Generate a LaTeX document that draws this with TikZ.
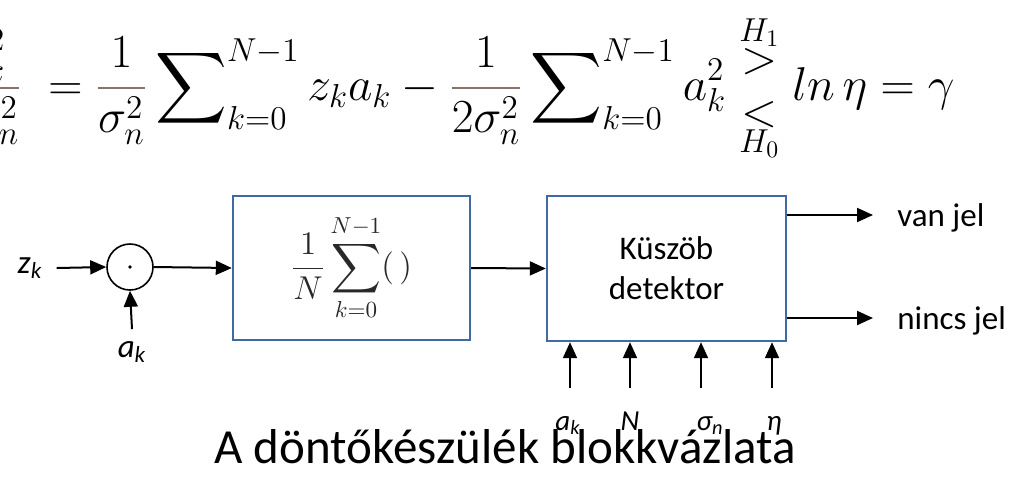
\RequirePackage{fix-cm}
\documentclass[tikz,border=0pt]{standalone}
\usepackage{amsmath}
\usepackage[no-math]{fontspec}
\setmainfont{Carlito}
\usetikzlibrary{arrows.meta}
\definecolor{boxblue}{RGB}{65,105,165}
\definecolor{barbrown}{RGB}{140,112,108}
\definecolor{mathgray}{RGB}{40,40,40}
\newcommand{\bfrac}[2]{{\color{barbrown}\frac{\color{black}#1}{\color{black}#2}}}
\newcommand{\decide}{\mathrel{\vcenter{\offinterlineskip\halign{\hfil##\hfil\cr$\scriptstyle H_1$\cr\noalign{\kern1pt}$>$\cr\noalign{\kern13pt}$<$\cr\noalign{\kern1pt}$\scriptstyle H_0$\cr}}}}
\tikzset{
  eqn/.style={inner sep=0pt, font=\fontsize{23.7}{28}\selectfont},
  blk/.style={draw=boxblue, line width=1.2pt, fill=white, inner sep=0pt},
  lbl/.style={inner sep=0pt, font=\fontsize{16.5}{19}\selectfont},
  slbl/.style={inner sep=0pt, font=\fontsize{14.5}{17}\selectfont},
  arr/.style={line width=1pt, -{Triangle[length=8pt,width=7pt]}},
}
\begin{document}
\begin{tikzpicture}[x=0.5pt,y=-0.5pt]
\useasboundingbox (0,0) rectangle (1015,479);
\clip (0,0) rectangle (1015,479);
% equation
\node[eqn, anchor=base east] (lhs) at (22,100) {$\displaystyle\bfrac{z_k^2}{2\sigma_n^2}$};
\node[eqn, anchor=base west] (eq) at (48,100) {$\displaystyle = \bfrac{1}{\sigma_n^2}\sum\nolimits_{k=0}^{N-1} z_k a_k - \bfrac{1}{2\sigma_n^2}\sum\nolimits_{k=0}^{N-1} a_k^2 \decide ln\,\eta = \gamma$};
% block diagram
\node[draw, circle, minimum size=23pt, inner sep=0pt, line width=0.8pt] (mul) at (130,267) {};
\fill (mul.center) circle (0.9pt);
\node[lbl] (zk) at (30,268) {\itshape z\textsubscript{k}};
\node[lbl] (ak) at (132,352) {\itshape a\textsubscript{k}};
\node[blk, minimum width=118.5pt, minimum height=72pt] (sum) at (351.5,268)
  {\fontsize{16.5}{19}\selectfont\color{mathgray}$\displaystyle\frac{1}{N}\sum_{k=0}^{N-1}(\,)$};
\node[blk, minimum width=119.5pt, minimum height=72.5pt, align=center, font=\fontsize{16.5}{20}\selectfont] (det) at (666.5,268.5)
  {Küszöb\\detektor};
\draw[arr] ([xshift=7pt]zk.east) -- (mul.west);
\draw[arr] ([yshift=6pt]ak.north) -- (mul.south);
\draw[arr] (mul.east) -- (sum.west);
\draw[arr] (sum.east) -- (det.west);
\node[lbl, anchor=base west] (van) at (897,226) {van jel};
\node[lbl, anchor=base west] (nincs) at (897,329) {nincs jel};
\coordinate (vanin) at (873,215);
\coordinate (nincsin) at (873,318);
\draw[arr] (det.east |- vanin) -- (vanin);
\draw[arr] (det.east |- nincsin) -- (nincsin);
\coordinate (i1) at (570,388);
\coordinate (i2) at (630,388);
\coordinate (i3) at (701,388);
\coordinate (i4) at (772,388);
\foreach \i in {1,2,3,4} \draw[arr] (i\i) -- (det.south -| i\i);
\node[slbl, anchor=base] (l1) at (568,430) {\itshape a\textsubscript{k}};
\node[slbl, anchor=base] (l2) at (630,430) {\itshape N};
\node[slbl, anchor=base] (l3) at (710,430) {\itshape σ\textsubscript{n}};
\node[slbl, anchor=base] (l4) at (774,430) {\itshape η};
\node[anchor=base, inner sep=0pt, font=\fontsize{24.5}{28}\selectfont] (cap) at (505,463) {A döntőkészülék blokkvázlata};
\end{tikzpicture}
\end{document}
